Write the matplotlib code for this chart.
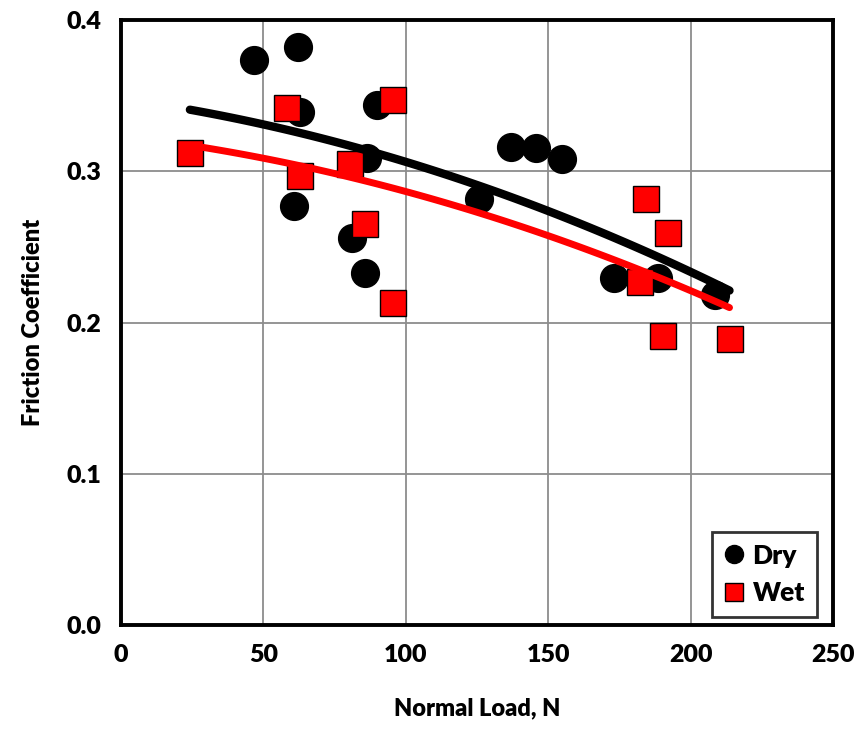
import numpy as np
import matplotlib
matplotlib.use("Agg")
import matplotlib.pyplot as plt

plt.rcParams['font.family'] = ['Lato', 'DejaVu Sans']
plt.rcParams['font.weight'] = 'heavy'

# dry runs
dry_load = [46.7, 62.2, 62.9, 60.9, 89.8, 86.5, 81.0, 85.6, 137.0, 145.6, 154.8, 125.6, 173.3, 188.6, 208.6]
dry_mu = [0.374, 0.382, 0.339, 0.277, 0.344, 0.309, 0.256, 0.233, 0.316, 0.3155, 0.308, 0.282, 0.2296, 0.2296, 0.2185]

# wet runs
wet_load = [24.2, 58.2, 62.9, 80.4, 95.6, 85.7, 95.6, 184.3, 192.0, 182.3, 190.5, 213.7]
wet_mu = [0.312, 0.342, 0.297, 0.305, 0.347, 0.265, 0.213, 0.282, 0.259, 0.2267, 0.191, 0.189]

fig = plt.figure(figsize=(8.64, 7.42), dpi=100)
ax = fig.add_axes([0.140, 0.1577, 0.824, 0.815])

ax.set_xlim(0, 250)
ax.set_ylim(0, 0.4)
ax.set_xticks([0, 50, 100, 150, 200, 250])
ax.set_yticks([0.0, 0.1, 0.2, 0.3, 0.4])
ax.set_yticklabels(["0.0", "0.1", "0.2", "0.3", "0.4"])
ax.grid(True, color="#8c8c8c", linewidth=1.3)
ax.set_axisbelow(True)
ax.tick_params(length=0, labelsize=18, pad=14)
for lab in ax.get_xticklabels() + ax.get_yticklabels():
    lab.set_fontweight("heavy")
for s in ax.spines.values():
    s.set_linewidth(2.8)
    s.set_color("black")

# 2nd order trend lines over the full load range
xs = np.linspace(min(wet_load + dry_load), max(wet_load + dry_load), 100)
cd = np.polyfit(dry_load, dry_mu, 2)
cw = np.polyfit(wet_load, wet_mu, 2)

ax.plot(dry_load, dry_mu, "o", ms=20, color="black", mec="black", label="Dry", zorder=3)
ax.plot(wet_load, wet_mu, "s", ms=19, color="#ff0000", mec="black", mew=1.0, label="Wet", zorder=3)
ax.plot(xs, np.polyval(cd, xs), color="black", lw=6, solid_capstyle="round", zorder=4)
ax.plot(xs, np.polyval(cw, xs), color="#ff0000", lw=5, solid_capstyle="round", zorder=4)

ax.set_xlabel("Normal Load, N", fontsize=17, fontweight="heavy", labelpad=22)
ax.set_ylabel("Friction Coefficient", fontsize=17, fontweight="heavy", labelpad=16)

leg = ax.legend(loc="lower right", bbox_to_anchor=(0.996, -0.008), fontsize=19, markerscale=0.65,
                frameon=True, fancybox=False, edgecolor="black", handlelength=0.8,
                handletextpad=0.3, borderpad=0.45, labelspacing=0.5)
leg.get_frame().set_linewidth(2)
for t in leg.get_texts():
    t.set_fontweight("heavy")

fig.savefig("out.png", dpi=100)
